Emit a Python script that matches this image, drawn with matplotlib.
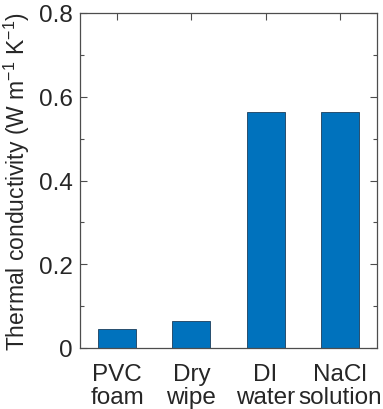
import matplotlib
matplotlib.use("Agg")
import matplotlib.pyplot as plt
from matplotlib.ticker import MultipleLocator

plt.rcParams['font.family'] = ['Liberation Sans', 'DejaVu Sans']
plt.rcParams['mathtext.fontset'] = 'custom'
plt.rcParams['mathtext.rm'] = 'Liberation Sans'

# data
materials = ["PVC\nfoam", "Dry\nwipe", "DI\nwater", "NaCl\nsolution"]
conductivity = [0.045, 0.065, 0.563, 0.563]

axis_col = "#4d4d4d"
bar_col = "#0072BD"

fig = plt.figure(figsize=(3.83, 4.10), dpi=100)
ax = fig.add_axes([80/383, 61/410, 297/383, 335/410])

pos = list(range(1, len(materials) + 1))
ax.bar(pos, conductivity, width=0.51, color=bar_col, edgecolor="#1a3d5c", linewidth=0.6, zorder=2)

ax.set_xlim(0.5, 4.5)
ax.set_ylim(0, 0.8)
ax.set_xticks(pos)
ax.set_xticklabels(materials, linespacing=1.05)
ax.set_yticks([0, 0.2, 0.4, 0.6, 0.8])
ax.set_yticklabels(["0", "0.2", "0.4", "0.6", "0.8"])
ax.yaxis.set_minor_locator(MultipleLocator(0.1))

ax.tick_params(which="both", direction="in", top=True, right=True, colors=axis_col,
               labelcolor="#262626", labelsize=17.5)
ax.tick_params(axis="y", pad=5)
ax.tick_params(axis="x", pad=11)
ax.tick_params(which="major", length=5, width=0.8)
ax.tick_params(which="minor", length=3, width=0.8)
for s in ax.spines.values():
    s.set_color(axis_col)
    s.set_linewidth(0.9)

ax.set_ylabel("Thermal conductivity (W m$^{-1}$ K$^{-1}$)", fontsize=16.5, color="#262626", labelpad=5)

fig.savefig("out.png", dpi=100)
